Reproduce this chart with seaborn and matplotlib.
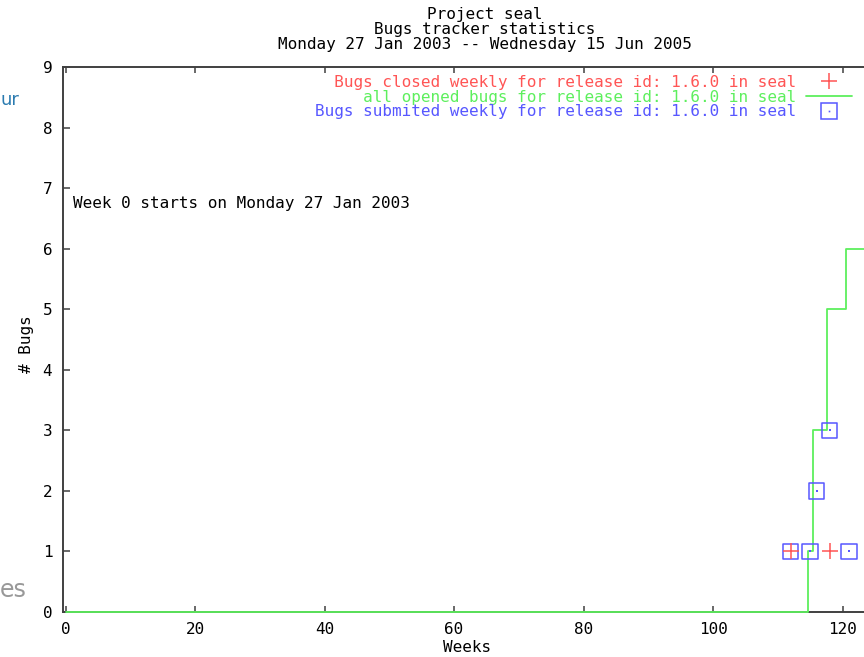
import matplotlib
matplotlib.use("Agg")
import matplotlib.pyplot as plt
import seaborn as sns
import numpy as np
from matplotlib.lines import Line2D

# values
closed_weeks = [112, 118]
closed_bugs = [1, 1]

submitted_weeks = [112, 115, 116, 118, 121]
submitted_bugs = [1, 1, 2, 3, 1]

opened_weeks = [0, 114.7, 115.5, 117.6, 120.6, 124.4]
opened_total = [0, 1, 3, 5, 6, 6]

x_ticks = [0, 20, 40, 60, 80, 100, 120]
y_ticks = list(range(0, 10))

title_lines = ["Project seal", "Bugs tracker statistics",
               "Monday 27 Jan 2003 -- Wednesday 15 Jun 2005"]
label_closed = "Bugs closed weekly for release id: 1.6.0 in seal"
label_opened = "all opened bugs for release id: 1.6.0 in seal"
label_submitted = "Bugs submited weekly for release id: 1.6.0 in seal"

RED = "#ff5555"
GREEN = "#5def5d"
BLUE = "#5757ff"
FRAME = "#404040"

sns.set_theme(style="white")
plt.rcParams["font.family"] = ["DejaVu Sans Mono"]
plt.rcParams["text.color"] = "black"
plt.rcParams["xtick.color"] = "black"
plt.rcParams["ytick.color"] = "black"
plt.rcParams["axes.labelcolor"] = "black"
FS = 11.5

W, H = 864, 657
fig = plt.figure(figsize=(W / 100, H / 100), dpi=100)
fig.patch.set_facecolor("white")

# axes frame: left 63.3px, top 67px, bottom 612px, right edge beyond canvas (871px)
ax = fig.add_axes([63.3 / W, (H - 612) / H, (871 - 63.3) / W, 545 / H])

sns.lineplot(x=opened_weeks, y=opened_total, drawstyle="steps-post",
             color=GREEN, linewidth=1.3, ax=ax, zorder=3, clip_on=False,
             estimator=None, sort=False)
sns.scatterplot(x=submitted_weeks, y=submitted_bugs, marker="s", s=125,
                facecolor="none", edgecolor=BLUE, linewidth=1.1, ax=ax, zorder=4)
sns.scatterplot(x=submitted_weeks, y=submitted_bugs, marker="s", s=1.5,
                facecolor=BLUE, edgecolor=BLUE, linewidth=0, ax=ax, zorder=4)
sns.scatterplot(x=closed_weeks, y=closed_bugs, marker="+", s=130,
                color=RED, edgecolor=RED, linewidth=1.1, ax=ax, zorder=5)

ax.set_xlim(-0.37, 124.4)
ax.set_ylim(0, 9)
ax.set_xticks(x_ticks)
ax.set_yticks(y_ticks)
ax.tick_params(axis="x", direction="in", length=4, width=1.1, color=FRAME,
               top=True, bottom=True, labelsize=FS, pad=7)
ax.tick_params(axis="y", direction="in", length=5, width=1.1, color=FRAME,
               left=True, right=True, labelsize=FS, pad=8)
for side in ["left", "bottom", "top", "right"]:
    ax.spines[side].set_color(FRAME)
    ax.spines[side].set_linewidth(1.4)
ax.set_xlabel("Weeks", fontsize=FS, labelpad=2)
ax.set_ylabel("")

ax.text(1.15, 6.74, "Week 0 starts on Monday 27 Jan 2003", fontsize=FS,
        ha="left", va="center")

# title lines
for i, line in enumerate(title_lines):
    fig.text(485 / W, 1 - (14 + 15.5 * i) / H, line, fontsize=FS,
             ha="center", va="center")

fig.text(27 / W, 1 - 344 / H, "# Bugs", fontsize=FS, rotation=90,
         ha="center", va="center")

# legend, labels right aligned like gnuplot
n = max(len(label_closed), len(label_opened), len(label_submitted))
handles = [
    Line2D([], [], color=RED, marker="+", ls="", ms=11.5, mew=1.1),
    Line2D([], [], color=GREEN, lw=1.3),
    (Line2D([], [], color=BLUE, marker="s", ls="", ms=11, mfc="none", mew=1.1),
     Line2D([], [], color=BLUE, marker="s", ls="", ms=1.2, mew=0)),
]
labels = [label_closed.rjust(n), label_opened.rjust(n), label_submitted.rjust(n)]
leg = fig.legend(handles, labels, loc="upper right",
                 bbox_to_anchor=(852 / W, 1 - 75 / H), frameon=False,
                 markerfirst=False, fontsize=FS, handlelength=2.9,
                 handletextpad=0.6, borderpad=0, borderaxespad=0,
                 labelspacing=-0.02)
for t, c in zip(leg.get_texts(), [RED, GREEN, BLUE]):
    t.set_color(c)

# fragments of the surrounding page visible in the screenshot
fig.text(0, 1 - 100 / H, "ur", fontsize=13, color="#2b7bb0",
         family="DejaVu Sans", ha="left", va="center")
fig.text(0, 1 - 590 / H, "es", fontsize=17, color="#999999",
         family="DejaVu Sans", ha="left", va="center")

fig.savefig("out.png", dpi=100)
